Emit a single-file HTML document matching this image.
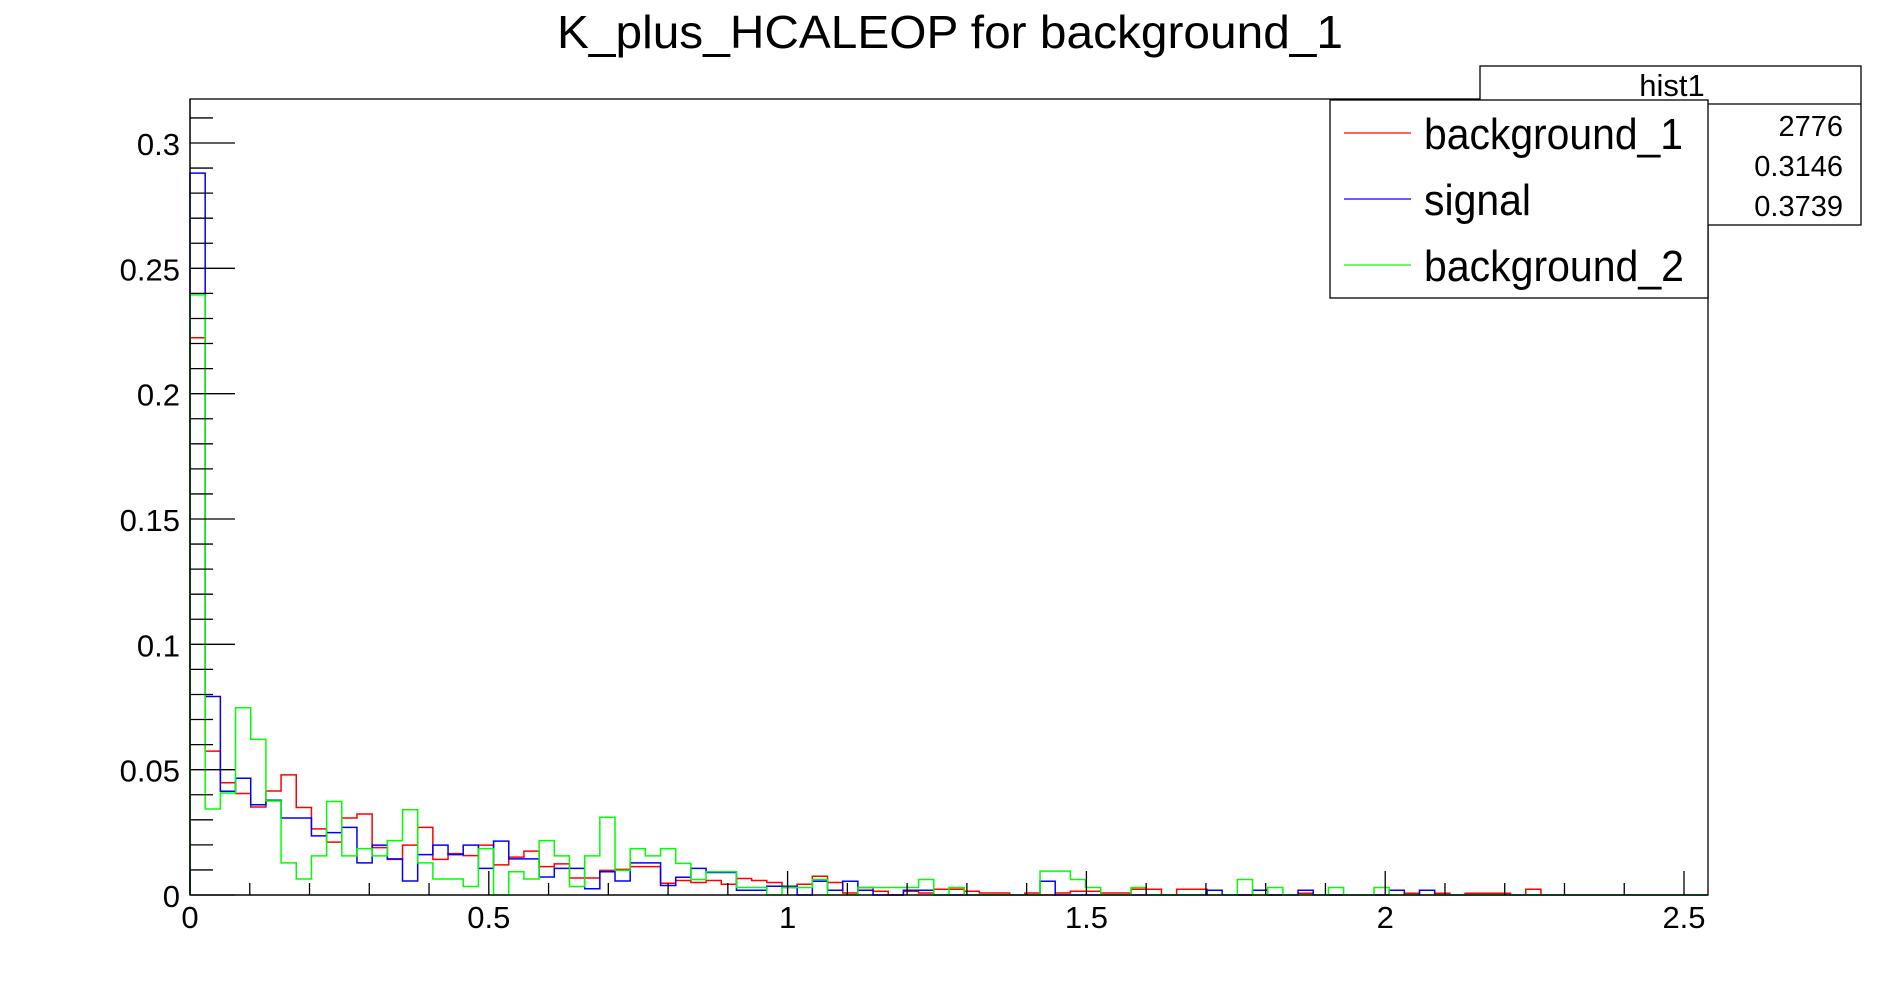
<!DOCTYPE html>
<html><head><meta charset="utf-8">
<style>
html,body{margin:0;padding:0;background:#fff;}
svg{display:block;font-family:"Liberation Sans",Arial,sans-serif;}
</style></head>
<body>
<svg id="chart" width="1898" height="994" viewBox="0 0 1898 994" xmlns="http://www.w3.org/2000/svg">
<text x="950" y="48" font-size="46" text-anchor="middle" textLength="786" lengthAdjust="spacingAndGlyphs">K_plus_HCALEOP for background_1</text>
<rect x="190" y="99" width="1518" height="796" fill="none" stroke="#000" stroke-width="1.3"/>
<g id="hists"></g>
<g id="axes"></g>
<g>
<rect x="1480" y="66" width="381" height="159" fill="#fff" stroke="#000" stroke-width="1.3"/>
<line x1="1480" y1="104" x2="1861" y2="104" stroke="#000" stroke-width="1.3"/>
<text x="1672" y="96" font-size="31" text-anchor="middle">hist1</text>
<text x="1843" y="136" font-size="29" text-anchor="end">2776</text>
<text x="1843" y="176" font-size="29" text-anchor="end">0.3146</text>
<text x="1843" y="216" font-size="29" text-anchor="end">0.3739</text>
</g>
<g>
<rect x="1330" y="100" width="378" height="198" fill="#fff" stroke="#000" stroke-width="1.3"/>
<line x1="1344" y1="133" x2="1411" y2="133" stroke="#f00" stroke-width="1.2"/>
<text x="1424" y="149" font-size="44" textLength="259" lengthAdjust="spacingAndGlyphs">background_1</text>
<line x1="1344" y1="199" x2="1411" y2="199" stroke="#00f" stroke-width="1.2"/>
<text x="1424" y="215" font-size="44" textLength="107" lengthAdjust="spacingAndGlyphs">signal</text>
<line x1="1344" y1="265" x2="1411" y2="265" stroke="#0f0" stroke-width="1.2"/>
<text x="1424" y="281" font-size="44" textLength="260" lengthAdjust="spacingAndGlyphs">background_2</text>
</g>
</svg>
<script>
const NBINS = 100;
const X_MIN = 0, X_MAX = 2.54;
const xTickLabels = ["0","0.5","1","1.5","2","2.5"];
const xTickValues = [0,0.5,1,1.5,2,2.5];
const yTickLabels = ["0","0.05","0.1","0.15","0.2","0.25","0.3"];
const yTickValues = [0,0.05,0.1,0.15,0.2,0.25,0.3];
const background1 = [0.2223,0.0574,0.0448,0.0405,0.0351,0.0415,0.0479,0.0349,0.0264,0.0211,0.0307,0.0323,0.0189,0.0142,0.0199,0.027,0.0142,0.0165,0.0157,0.0199,0.012,0.0151,0.0175,0.0113,0.0124,0.0068,0.0068,0.0098,0.0102,0.0113,0.0113,0.0047,0.0058,0.005,0.0058,0.0043,0.0066,0.0058,0.005,0.003,0.0043,0.0075,0.005,0.0008,0.003,0.0015,0,0.0015,0.0008,0.0023,0.0023,0.0015,0.0008,0.0008,0,0.0008,0,0.0008,0.0015,0.0015,0.0008,0.0008,0.0023,0.0023,0,0.0023,0.0023,0,0,0,0,0,0,0.0007,0,0,0,0,0,0,0.0007,0,0.0007,0,0.0007,0.0007,0.0007,0,0.0023,0,0,0,0,0,0,0,0,0,0,0];
const signal = [0.288,0.0792,0.0414,0.0466,0.036,0.0378,0.0307,0.0307,0.0236,0.0249,0.027,0.0128,0.0199,0.0144,0.0056,0.0161,0.0199,0.0161,0.0199,0.0106,0.0215,0.0144,0.0144,0.0072,0.0106,0.0106,0.0025,0.0093,0.0056,0.0128,0.0128,0.0038,0.0071,0.0106,0.009,0.009,0.0019,0.0019,0.0035,0.0035,0,0.0055,0.0019,0.0055,0.0019,0,0,0.0019,0.0019,0,0,0,0,0,0,0,0.0055,0,0,0,0,0,0,0,0,0,0,0.0019,0,0,0.0019,0,0,0.0019,0,0,0,0,0,0.0019,0,0.0019,0,0,0,0,0,0,0,0,0,0,0,0,0,0,0,0,0,0];
const background2 = [0.2394,0.0343,0.0407,0.0747,0.0621,0.0375,0.0128,0.0064,0.0156,0.0373,0.0156,0.0185,0.0156,0.0217,0.034,0.0128,0.0064,0.0064,0.0034,0.0185,0,0.0093,0.0064,0.0217,0.0156,0.0034,0.0156,0.031,0.0098,0.0185,0.0156,0.0185,0.0126,0.0062,0.0093,0.0093,0.003,0.003,0,0.003,0.003,0.0062,0,0,0.003,0.003,0.003,0.003,0.0062,0,0.003,0,0,0,0,0,0.0095,0.0095,0.0062,0.003,0,0,0.003,0,0,0,0,0,0,0.0062,0,0.003,0,0,0,0.003,0,0,0.003,0,0,0,0,0,0,0,0,0,0,0,0,0,0,0,0,0,0,0,0,0];

const PX0 = 190, PX1 = 1708, PY0 = 895;
const X_PER = (1684 - 190) / 2.5;
const Y_PER = (895 - 143) / 0.3;
function xs(v){ return PX0 + (v - X_MIN) * X_PER; }
function ys(v){ return PY0 - v * Y_PER; }
const NS = "http://www.w3.org/2000/svg";
const hg = document.getElementById('hists');
const binW = (X_MAX - X_MIN) / NBINS;
function drawHist(vals, color, name){
  let d = "M" + xs(X_MIN) + "," + ys(0);
  for (let i = 0; i < vals.length; i++){
    const x0 = xs(X_MIN + i*binW), x1 = xs(X_MIN + (i+1)*binW), y = ys(vals[i]);
    d += " L" + x0 + "," + y + " L" + x1 + "," + y;
  }
  d += " L" + xs(X_MAX) + "," + ys(0);
  const p = document.createElementNS(NS, 'path');
  p.setAttribute('d', d);
  p.setAttribute('fill', 'none');
  p.setAttribute('stroke', color);
  p.setAttribute('stroke-width', '1.5');
  
  
  hg.appendChild(p);
}
drawHist(background1, '#f00', 'background-1-histogram');
drawHist(signal, '#00f', 'signal-histogram');
drawHist(background2, '#0f0', 'background-2-histogram');

const ag = document.getElementById('axes');
function line(x1,y1,x2,y2,name){
  const l = document.createElementNS(NS,'line');
  l.setAttribute('x1',x1); l.setAttribute('y1',y1); l.setAttribute('x2',x2); l.setAttribute('y2',y2);
  l.setAttribute('stroke','#000'); l.setAttribute('stroke-width','1.3');
  
  
  ag.appendChild(l);
}
function label(x,y,txt,anchor,name){
  const t = document.createElementNS(NS,'text');
  t.setAttribute('x',x); t.setAttribute('y',y); t.setAttribute('font-size','31');
  t.setAttribute('text-anchor',anchor); t.textContent = txt;
  
  
  ag.appendChild(t);
}
for (let k = 0; k <= 31; k++){
  const v = k*0.01;
  const major = k % 5 === 0;
  line(PX0, ys(v), PX0 + (major ? 45 : 23), ys(v), 'y-tick');
}
yTickValues.forEach((v,i)=> label(180, ys(v)+12, yTickLabels[i], 'end', 'y-tick-label'));
for (let k = 0; k <= 25; k++){
  const v = k*0.1;
  const major = k % 5 === 0;
  line(xs(v), PY0, xs(v), PY0 - (major ? 24 : 12), 'x-tick');
}
xTickValues.forEach((v,i)=> label(xs(v), 928, xTickLabels[i], 'middle', 'x-tick-label'));
line(PX0, PY0, PX1, PY0, 'x-axis');
line(PX0, 99, PX0, PY0, 'y-axis');
</script>
</body></html>
